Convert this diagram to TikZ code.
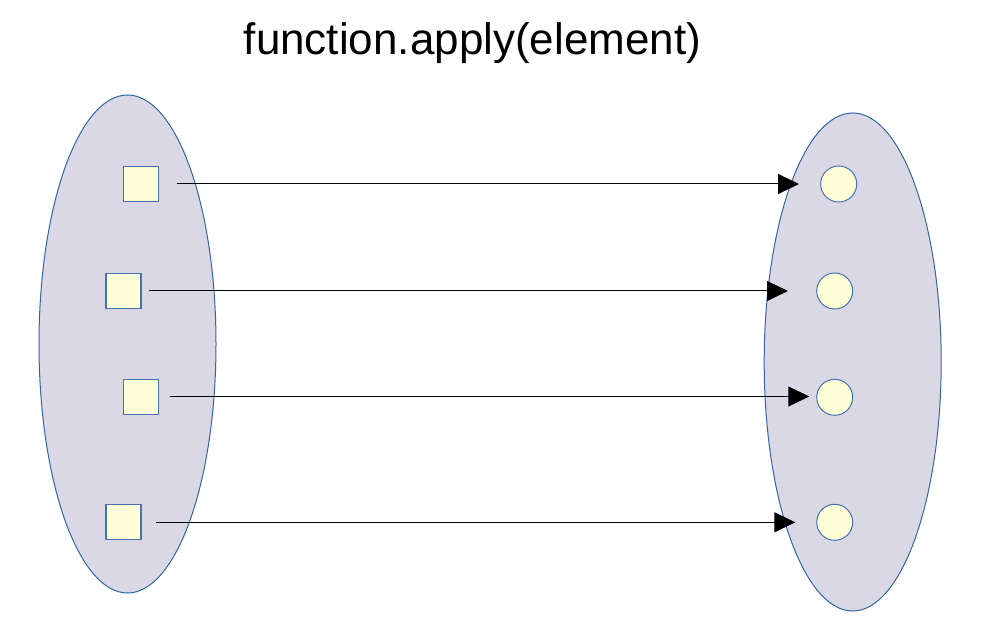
\documentclass[tikz,border=0pt]{standalone}
\usepackage{fontspec}
\setmainfont{Liberation Sans}
\usetikzlibrary{arrows.meta,shapes.geometric}
\definecolor{setfill}{RGB}{218,216,229}
\definecolor{setline}{RGB}{52,101,164}
\definecolor{elemfill}{RGB}{255,255,215}
\definecolor{elemline}{RGB}{70,114,176}
\tikzset{
  setshape/.style={ellipse, draw=setline, fill=setfill, line width=1pt, minimum width=177pt, minimum height=498pt, inner sep=0pt},
  sqbox/.style={rectangle, draw=elemline, fill=elemfill, line width=1.1pt, minimum size=35pt, inner sep=0pt},
  circbox/.style={circle, draw=elemline, fill=elemfill, line width=1pt, minimum size=36pt, inner sep=0pt},
  mapline/.style={draw=black, line width=1pt, -{Triangle[length=21pt,width=20pt]}}
}
\begin{document}
\begin{tikzpicture}[x=1pt,y=-1pt]
\useasboundingbox (0,0) rectangle (1004,644);
\node[anchor=base, font=\fontsize{44}{50}\selectfont] (title) at (472.5,54.3) {function.apply(element)};
\node[setshape] (dom) at (127.5,344) {};
\node[setshape] (cod) at (852.7,362) {};
\node[sqbox] (s1) at (141.3,184) {};
\node[sqbox] (s2) at (123.5,291) {};
\node[sqbox] (s3) at (141.3,397.3) {};
\node[sqbox] (s4) at (123.5,522.3) {};
\node[circbox] (c1) at (838.7,184) {};
\node[circbox] (c2) at (834.7,291) {};
\node[circbox] (c3) at (834.7,397.3) {};
\node[circbox] (c4) at (834.7,522.3) {};
\coordinate (a1) at (177,184);
\coordinate (b1) at (799,184);
\coordinate (a2) at (149,291);
\coordinate (b2) at (788,291);
\coordinate (a3) at (170,396.5);
\coordinate (b3) at (809.3,396.5);
\coordinate (a4) at (156,522.3);
\coordinate (b4) at (795.3,522.3);
\draw[mapline] (a1) -- (b1);
\draw[mapline] (a2) -- (b2);
\draw[mapline] (a3) -- (b3);
\draw[mapline] (a4) -- (b4);
\end{tikzpicture}
\end{document}
